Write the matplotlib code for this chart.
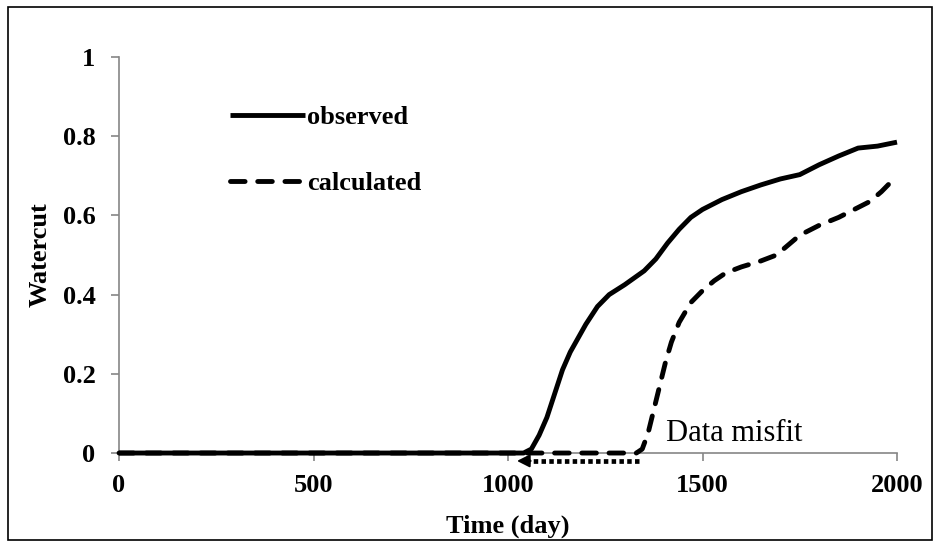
import matplotlib

matplotlib.use("Agg")
import matplotlib.pyplot as plt
from matplotlib.patches import Rectangle

# observed and calculated watercut vs time (day)
obs_time = [0, 1000, 1040, 1060, 1080, 1100, 1120, 1140, 1160, 1180, 1200, 1230, 1260,
            1300, 1350, 1380, 1410, 1440, 1470, 1500, 1550, 1600, 1650, 1700, 1750,
            1800, 1850, 1900, 1950, 2000]
obs_wc = [0, 0, 0, 0.01, 0.045, 0.09, 0.15, 0.21, 0.255, 0.29, 0.325, 0.37, 0.40,
          0.425, 0.46, 0.49, 0.53, 0.565, 0.595, 0.615, 0.64, 0.66, 0.677, 0.692, 0.703,
          0.728, 0.75, 0.77, 0.775, 0.785]

calc_time = [0, 1330, 1345, 1360, 1375, 1390, 1405, 1420, 1440, 1470, 1500, 1530, 1560,
             1600, 1650, 1690, 1720, 1750, 1800, 1850, 1900, 1930, 1960, 1980, 2000]
calc_wc = [0, 0, 0.01, 0.05, 0.11, 0.17, 0.23, 0.28, 0.33, 0.38, 0.41, 0.435, 0.455,
           0.47, 0.485, 0.5, 0.525, 0.55, 0.575, 0.595, 0.62, 0.635, 0.66, 0.68, 0.70]

x_ticks = [0, 500, 1000, 1500, 2000]
y_ticks = [0, 0.2, 0.4, 0.6, 0.8, 1]
y_tick_labels = ["0", "0.2", "0.4", "0.6", "0.8", "1"]

# breakthrough-time gap marked with an arrow
misfit_start = 1337
misfit_end = 1023
misfit_y = -0.02

plt.rcParams["font.family"] = ["Liberation Serif", "DejaVu Serif"]

fig = plt.figure(figsize=(9.38, 5.47), dpi=100)
ax = fig.add_axes([0.1269, 0.1718, 0.8294, 0.724])

ax.plot(calc_time, calc_wc, color="black", lw=3.5, dashes=(3.0, 2.6),
        dash_capstyle="round", solid_capstyle="round", label="calculated",
        clip_on=False, zorder=3)
ax.plot(obs_time, obs_wc, color="black", lw=3.5, solid_capstyle="butt",
        label="observed", clip_on=False, zorder=4)

# dotted arrow for the misfit
ax.plot([misfit_start, misfit_end + 30], [misfit_y, misfit_y], color="black", lw=3.4,
        linestyle=(0, (0.95, 0.7)), dash_capstyle="butt", clip_on=False, zorder=5)
ax.annotate("", xy=(misfit_end, misfit_y), xytext=(misfit_end + 35, misfit_y),
            arrowprops=dict(arrowstyle="-|>,head_length=0.75,head_width=0.38",
                            color="black", lw=1.5, shrinkA=0, shrinkB=0),
            annotation_clip=False, zorder=5)
ax.text(1407, 0.05, "Data misfit", fontsize=22, ha="left", va="center")

ax.set_xlim(0, 2000)
ax.set_ylim(0, 1)
ax.set_xticks(x_ticks)
ax.set_yticks(y_ticks)
ax.set_yticklabels(y_tick_labels)
for lab in ax.get_xticklabels() + ax.get_yticklabels():
    lab.set_fontweight("bold")
ax.tick_params(axis="both", colors="#868686", labelcolor="black", labelsize=19,
               length=6, width=1.2)
ax.tick_params(axis="x", pad=9)
ax.tick_params(axis="y", pad=11)

for side in ("top", "right"):
    ax.spines[side].set_visible(False)
for side in ("left", "bottom"):
    ax.spines[side].set_color("#868686")
    ax.spines[side].set_linewidth(1.2)

ax.set_xlabel("Time (day)", fontsize=19, fontweight="bold", labelpad=13)
ax.set_ylabel("Watercut", fontsize=19, fontweight="bold", labelpad=8)

handles, labels = ax.get_legend_handles_labels()
ax.legend(handles[::-1], labels[::-1], loc="upper left", bbox_to_anchor=(0.1427, 0.877),
          borderaxespad=0, borderpad=0, frameon=False, handlelength=2.85,
          handletextpad=0.08, labelspacing=1.62, prop={"weight": "bold", "size": 19})

fig.add_artist(Rectangle((0.008, 0.012), 0.986, 0.975, transform=fig.transFigure,
                         fill=False, edgecolor="black", lw=1.2))

fig.savefig("out.png", dpi=100)
plt.close(fig)
